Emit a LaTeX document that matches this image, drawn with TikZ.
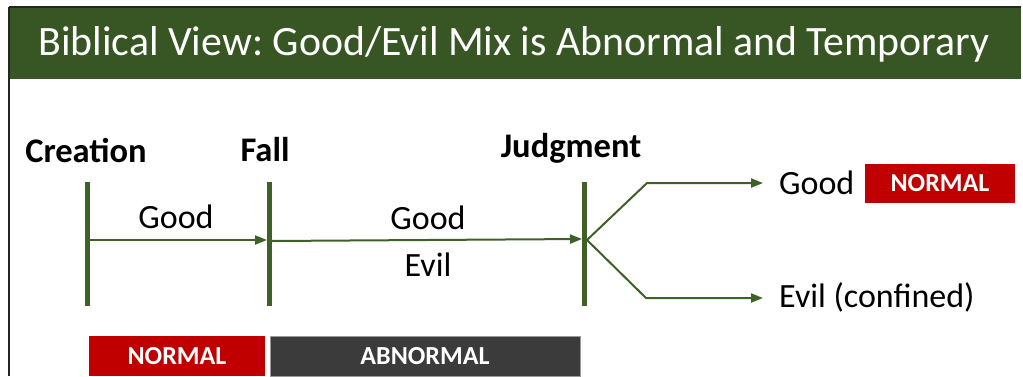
\documentclass[tikz,border=0pt]{standalone}
\usepackage{fontspec}
\setmainfont{Carlito}
\usetikzlibrary{arrows.meta}
\definecolor{hdrgreen}{HTML}{375623}
\definecolor{lngreen}{HTML}{3F6128}
\definecolor{tagred}{HTML}{C00000}
\definecolor{taggrey}{HTML}{3B3B3B}
\frenchspacing
\begin{document}
\begin{tikzpicture}[x=1pt,y=-1pt,
  bar/.style={draw=lngreen,line width=5pt},
  flow/.style={draw=lngreen,line width=2pt,-{Triangle[length=12pt,width=9pt]}},
  era/.style={font=\fontsize{34.5}{40}\selectfont\bfseries,inner sep=0pt},
  lbl/.style={font=\fontsize{34}{40}\selectfont,inner sep=0pt},
  tag/.style={inner sep=0pt,text=white,font=\fontsize{26}{30}\selectfont\bfseries}]
\useasboundingbox (0,0) rectangle (1023,376);
\fill[white] (0,0) rectangle (1023,376);
% header
\fill[hdrgreen] (9,7) rectangle (1021,79);
\draw[black!85,line width=1.5pt] (9,7) -- (1021,7);
\draw[black!85,line width=1.5pt] (9,7) -- (9,376);
\node[text=white,inner sep=0pt,font=\fontsize{41.8}{50}\selectfont] (title) at (514,44) {Biblical View: Good/Evil Mix is Abnormal and Temporary};
% era labels
\node[era] (creation) at (86,150) {Creation};
\node[era] (fall) at (265,150) {Fall};
\node[era] (judgment) at (571,148) {Judgment};
% bars
\coordinate (c1) at (87,182); \coordinate (c2) at (87,306);
\coordinate (f1) at (269,182); \coordinate (f2) at (269,306);
\coordinate (j1) at (584,182); \coordinate (j2) at (584,306);
\draw[bar] (c1) -- (c2);
\draw[bar] (f1) -- (f2);
\draw[bar] (j1) -- (j2);
% arrows
\coordinate (ca) at (89,240);
\coordinate (fa) at (267,240);
\coordinate (fb) at (271,241);
\coordinate (ja) at (582,239);
\coordinate (jo) at (587,240);
\coordinate (up) at (647,183);
\coordinate (dn) at (646,298);
\coordinate (upe) at (763,183);
\coordinate (dne) at (763,298);
\draw[flow] (ca) -- (fa);
\draw[flow] (fb) -- (ja);
\draw[flow] (jo) -- (up) -- (upe);
\draw[flow] (jo) -- (dn) -- (dne);
% texts
\node[lbl] (g1) at (176,217) {Good};
\node[lbl] (g2) at (428,218) {Good};
\node[lbl] (e2) at (428,265) {Evil};
\node[lbl,anchor=west] (g3) at (779,183) {Good};
\node[lbl,anchor=west] (e3) at (779,297) {Evil (confined)};
% tags
\node[tag,fill=tagred,minimum width=150pt,minimum height=39pt] (n1) at (940,183) {NORMAL};
\node[tag,fill=tagred,minimum width=176pt,minimum height=40pt] (n2) at (177,356) {NORMAL};
\node[tag,fill=taggrey,draw=gray!80,line width=0.8pt,minimum width=310pt,minimum height=40pt] (ab) at (425,356) {ABNORMAL};
\end{tikzpicture}
\end{document}
